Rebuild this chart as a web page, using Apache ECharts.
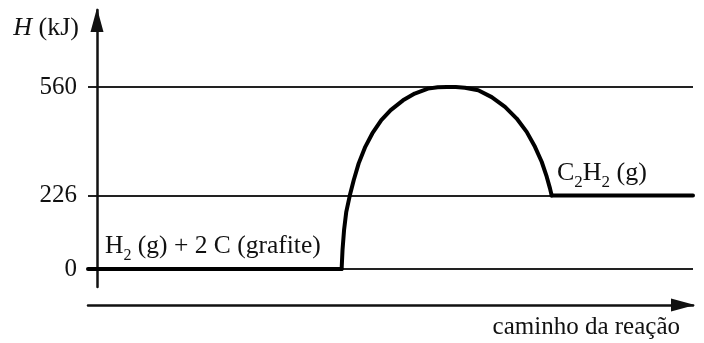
<!DOCTYPE html>
<html><head><meta charset="utf-8">
<script src="https://cdn.jsdelivr.net/npm/echarts@6/dist/echarts.min.js"></script>
<style>html,body{margin:0;padding:0;background:#fff}#c{width:704px;height:343px}</style>
</head><body><div id="c"></div>
<script>
// Tick values on the enthalpy axis (kJ)
const yTicks = [0, 226, 560];
// Reaction path (arbitrary units 0..100) and enthalpy (kJ)
const reactantLevel = [[0, 0], [41.92, 0]];
const barrierCurve = [[41.92, 0], [42.07, 59], [42.33, 121], [42.69, 176], [43.27, 226], [43.93, 274], [44.74, 325], [45.83, 376], [46.99, 417], [48.48, 458], [50.03, 489], [52.07, 519], [54.0, 540], [56.2, 555], [57.8, 559], [59.3, 560], [60.8, 560], [62.3, 558], [64.5, 550], [66.73, 529], [68.93, 499], [70.86, 463], [72.51, 422], [73.88, 376], [74.99, 330], [75.82, 284], [76.36, 248], [76.64, 226]];
const productLevel = [[76.64, 226], [100, 226]];
const reactantText = 'H{s|2} (g) + 2 C (grafite)';
const productText = 'C{s|2}H{s|2} (g)';
const yName = '{i|H} (kJ)';
const xName = 'caminho da reação';

const FF = "'Liberation Serif', 'Times New Roman', serif";
const TXT = '#111';
const chart = echarts.init(document.getElementById('c'), null, {renderer: 'canvas'});
const lineSeries = (data, extra) => Object.assign({
  type: 'line', data: data, symbol: 'none', silent: true,
  lineStyle: {color: '#000', width: 4, cap: 'round', join: 'round'}
}, extra || {});
chart.setOption({
  animation: false,
  backgroundColor: '#fff',
  grid: {left: 88, right: 11, top: 10, bottom: 56, containLabel: false},
  xAxis: {
    type: 'value', min: 0, max: 100, position: 'bottom', offset: 18,
    axisLine: {show: true, onZero: false, lineStyle: {color: '#111', width: 2.5},
      symbol: ['none', 'triangle'], symbolSize: [13, 24], symbolOffset: [0, -10]},
    axisTick: {show: false}, axisLabel: {show: false}, splitLine: {show: false},
    name: xName, nameLocation: 'end', nameGap: -13,
    nameTextStyle: {align: 'right', verticalAlign: 'top', padding: [10, 0, 0, 0], lineHeight: 24,
      fontFamily: FF, fontSize: 25, color: TXT}
  },
  yAxis: {
    type: 'value', min: -55.4, max: 797, offset: -9,
    axisLine: {show: true, onZero: false, lineStyle: {color: '#111', width: 2.5},
      symbol: ['none', 'triangle'], symbolSize: [13, 24], symbolOffset: [0, -10]},
    axisTick: {show: false, customValues: yTicks},
    axisLabel: {customValues: yTicks, margin: 20, color: TXT, fontFamily: FF, fontSize: 25},
    splitLine: {show: true, lineStyle: {color: '#222', width: 2}},
    name: yName, nameLocation: 'end', nameGap: -18,
    nameTextStyle: {align: 'right', verticalAlign: 'middle', padding: [0, 18, 0, 0],
      fontFamily: FF, fontSize: 26, color: TXT,
      rich: {i: {fontStyle: 'italic', fontFamily: FF, fontSize: 26, color: TXT}}}
  },
  series: [
    lineSeries(reactantLevel),
    lineSeries(barrierCurve, {smooth: false}),
    lineSeries(productLevel)
  ],
  graphic: [
    {type: 'text', x: 105, y: 246, silent: true,
      style: {text: reactantText, align: 'left', verticalAlign: 'middle', fontFamily: FF, fontSize: 25.5,
        lineHeight: 36, fill: TXT, rich: {s: {fontSize: 16, lineHeight: 16, verticalAlign: 'bottom', fontFamily: FF, fill: TXT}}}},
    {type: 'text', x: 557, y: 173, silent: true,
      style: {text: productText, align: 'left', verticalAlign: 'middle', fontFamily: FF, fontSize: 26,
        lineHeight: 36, fill: TXT, rich: {s: {fontSize: 17, lineHeight: 17, verticalAlign: 'bottom', fontFamily: FF, fill: TXT}}}}
  ]
});
</script></body></html>
